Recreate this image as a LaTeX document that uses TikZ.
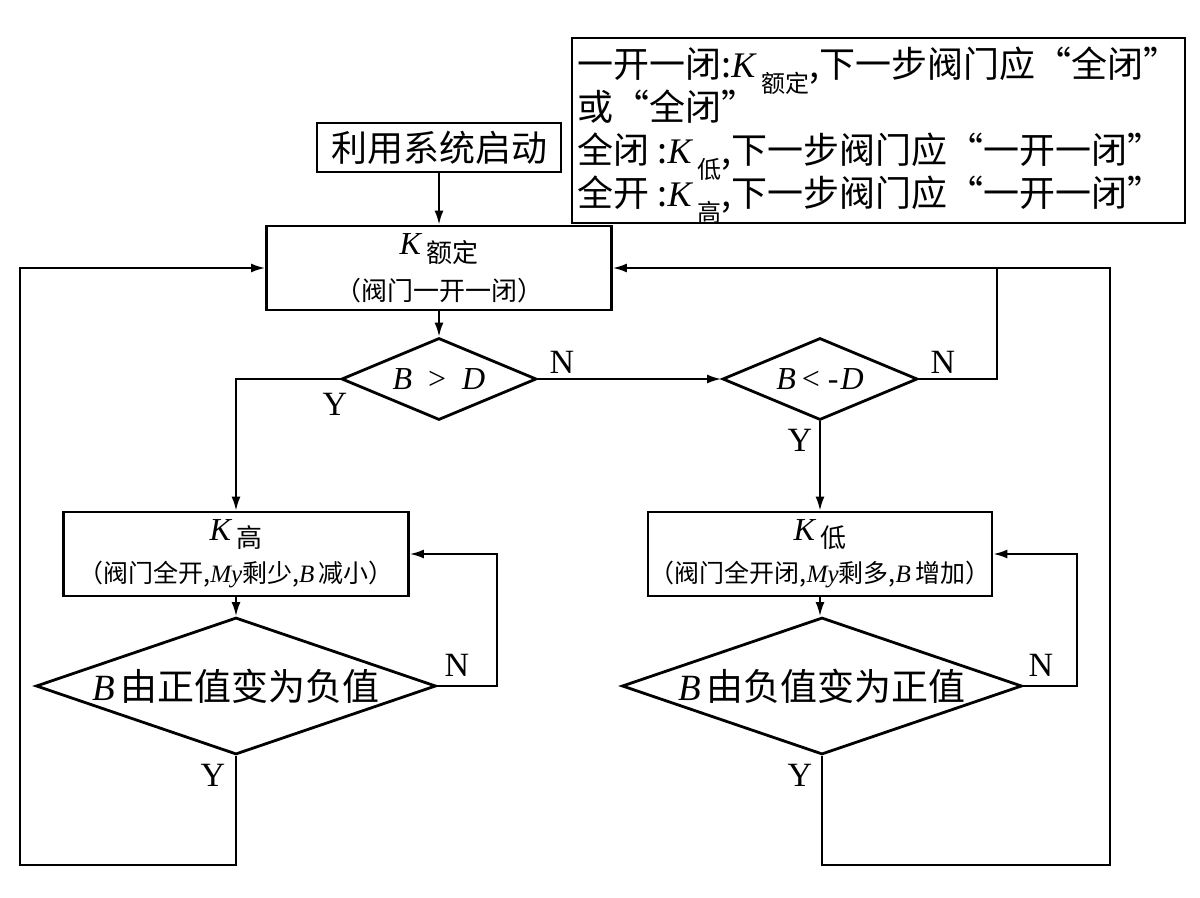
\documentclass[tikz,border=0pt]{standalone}
\usepackage{fontspec}
\setmainfont{Liberation Serif}
\newfontfamily\cjk{Noto Sans CJK SC}
\usetikzlibrary{shapes.geometric,arrows.meta}
\newcommand\vi[1]{{\rmfamily\itshape #1}}
\newcommand\lowsub[3][12]{\smash{\raisebox{#2}{\fontsize{#1}{#1}\selectfont #3}}}

\begin{document}
\begin{tikzpicture}[x=0.5pt,y=-0.5pt,
    box/.style={draw, line width=1.4pt, inner sep=0pt, align=center, font=\cjk},
    dia/.style={draw, diamond, line width=1.4pt, inner sep=0pt, font=\cjk},
    arr/.style={line width=1pt, -{Latex[length=7pt,width=4.5pt]}},
    ln/.style={line width=1pt},
    yn/.style={font=\fontsize{17}{17}\selectfont, inner sep=0pt}]
  \useasboundingbox (0,0) rectangle (1200,898);
  % Legend
  \node[box, minimum width=306.5pt, minimum height=92.5pt, align=left,
        font=\cjk\fontsize{18}{21.5}\selectfont] (legend) at (878.5,130.5)
    {一开一闭:\vi{K}\,\lowsub{-0.75ex}{额定},下一步阀门应“全闭”\\
     或“全闭”\\
     全闭 :\vi{K}\,\lowsub{-0.75ex}{低},下一步阀门应“一开一闭”\\
     全开 :\vi{K}\,\lowsub{-0.75ex}{高},下一步阀门应“一开一闭”};
  % Start and rated state
  \node[box, minimum width=122pt, minimum height=24.5pt,
        font=\cjk\fontsize{18}{18}\selectfont] (start) at (439,147.5) {利用系统启动};
  \node[box, minimum width=172.5pt, minimum height=42pt] (rated) at (439,268)
    {\fontsize{16}{16}\selectfont\vi{K}\,\lowsub[13]{-0.5ex}{额定}\\[11pt]
     \fontsize{13}{13}\selectfont（阀门一开一闭）};
  % Decisions on B
  \node[dia, minimum width=97.5pt, minimum height=41pt, aspect=2.4,
        font=\fontsize{16}{16}\selectfont] (gtD) at (439,379)
    {\vi{B}\enspace>\enspace\vi{D}};
  \node[dia, minimum width=97.5pt, minimum height=41pt, aspect=2.4,
        font=\fontsize{16}{16}\selectfont] (ltD) at (820,379)
    {\vi{B}\kern3pt<\kern4pt-\kern1pt\vi{D}};
  % Valve states
  \node[box, minimum width=172.5pt, minimum height=42pt] (khigh) at (236,554)
    {\fontsize{16}{16}\selectfont\vi{K}\,\lowsub[13]{-0.4ex}{高}\\[9pt]
     \fontsize{12.5}{12.5}\selectfont（阀门全开,\vi{My}剩少,\vi{B}\,减小）};
  \node[box, minimum width=172pt, minimum height=42pt] (klow) at (820,554)
    {\fontsize{16}{16}\selectfont\vi{K}\,\lowsub[13]{-0.4ex}{低}\\[9pt]
     \fontsize{12.5}{12.5}\selectfont（阀门全开闭,\vi{My}剩多,\vi{B}\,增加）};
  \node[dia, minimum width=200pt, minimum height=68.5pt, aspect=3,
        font=\cjk\fontsize{18.5}{18.5}\selectfont] (posneg) at (236,686)
    {\vi{B}\,由正值变为负值};
  \node[dia, minimum width=200pt, minimum height=68.5pt, aspect=3,
        font=\cjk\fontsize{18.5}{18.5}\selectfont] (negpos) at (822,686)
    {\vi{B}\,由负值变为正值};
  % Turning points
  \coordinate (njoin) at (997,268);
  \coordinate (lbot) at (20,865);
  \coordinate (rbot) at (1110,865);
  \coordinate (lback) at (497,686);
  \coordinate (rback) at (1077,686);
  % Connectors
  \draw[arr] (start) -- (rated);
  \draw[arr] (rated) -- (gtD);
  \draw[arr] (gtD.west) -| (khigh.north);
  \draw[arr] (gtD.east) -- (ltD.west);
  \draw[ln] (ltD.east) -| (njoin);
  \draw[arr] (ltD.south) -- (klow.north);
  \draw[arr] (khigh) -- (posneg);
  \draw[arr] (klow.south) -- (klow.south |- negpos.north);
  \draw[arr] (posneg.east) -- (lback) |- (khigh.east);
  \draw[arr] (negpos.east) -- (rback) |- (klow.east);
  \draw[arr] (posneg.south) |- (lbot) |- (rated.west);
  \draw[arr] (negpos.south) |- (rbot) |- (rated.east);
  % Y / N
  \node[yn] (y1) at (335,404) {Y};
  \node[yn] (n1) at (562,362) {N};
  \node[yn] (n2) at (943,362) {N};
  \node[yn] (y2) at (800,440) {Y};
  \node[yn] (n3) at (457,665) {N};
  \node[yn] (y3) at (213,775) {Y};
  \node[yn] (n4) at (1041,665) {N};
  \node[yn] (y4) at (800,775) {Y};
\end{tikzpicture}
\end{document}
